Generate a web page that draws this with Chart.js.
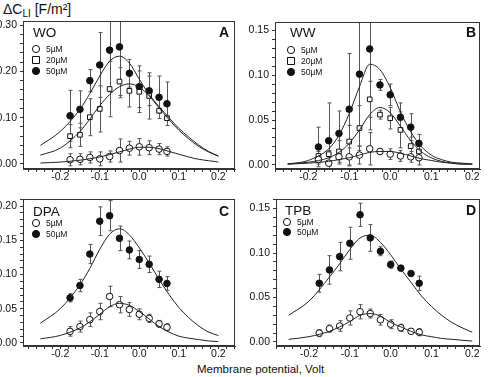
<!DOCTYPE html>
<html>
<head>
<meta charset="utf-8">
<script src="https://cdn.jsdelivr.net/npm/chart.js@4.4.1/dist/chart.umd.min.js"></script>
<style>
  body { margin: 0; background: #fff; width: 488px; height: 377px; overflow: hidden; position: relative;
         font-family: 'Liberation Sans', Arial, Helvetica, sans-serif; color: #111; }
  canvas { position: absolute; }
  #ylab { position: absolute; left: 3px; top: 1px; font-size: 14px; white-space: nowrap; }
  #ylab sub { font-size: 10px; vertical-align: -3px; }
  #xlab { position: absolute; left: 197px; top: 363px; font-size: 11.5px; white-space: nowrap; }
</style>
</head>
<body>
<div id="ylab">ΔC<sub>LI</sub> [F/m²]</div>
<div id="xlab">Membrane potential, Volt</div>
<canvas id="panelA" width="244" height="190" style="left:0;top:0"></canvas>
<canvas id="panelB" width="244" height="190" style="left:244px;top:0"></canvas>
<canvas id="panelC" width="244" height="187" style="left:0;top:190px"></canvas>
<canvas id="panelD" width="244" height="187" style="left:244px;top:190px"></canvas>
<script>
// membrane potential of the measured points (V)
const potential = [-0.175, -0.15, -0.125, -0.1, -0.075, -0.05, -0.025, 0, 0.025, 0.05, 0.07];
// potential grid of the fitted curves (V)
const fitPotential = [-0.25, -0.2, -0.15, -0.125, -0.1, -0.075, -0.05, -0.025, 0, 0.025, 0.05, 0.075, 0.1, 0.125, 0.15, 0.175, 0.2];

// labelled ticks
const xLabels = [-0.2, -0.1, 0, 0.1, 0.2];
const yLabelsA = [0, 0.1, 0.2, 0.3];
const yLabelsB = [0, 0.05, 0.1, 0.15];
const yLabelsC = [0, 0.05, 0.1, 0.15, 0.2];
const yLabelsD = [0, 0.05, 0.1, 0.15];

// A - WO
const wo5 = [0.009, 0.010, 0.014, 0.011, 0.016, 0.029, 0.034, 0.037, 0.035, 0.032, 0.027];
const wo5Err = [0.013, 0.012, 0.012, 0.015, 0.012, 0.025, 0.015, 0.018, 0.015, 0.012, 0.010];
const wo20 = [0.060, 0.063, 0.101, 0.119, 0.162, 0.178, 0.158, 0.156, 0.147, 0.115, 0.099];
const wo20Err = [0.025, 0.025, 0.040, 0.050, 0.060, 0.030, 0.035, 0.045, 0.050, 0.005, 0.004];
const wo50 = [0.104, 0.118, 0.180, 0.214, 0.246, 0.253, 0.196, 0.167, 0.158, 0.144, 0.130];
const wo50Err = [0.055, 0.040, 0.024, 0.070, 0.090, 0.110, 0.030, 0.045, 0.032, 0.046, 0.047];
const woFit5 = [0.002, 0.004, 0.008, 0.011, 0.015, 0.020, 0.026, 0.032, 0.036, 0.036, 0.033, 0.027, 0.021, 0.015, 0.010, 0.007, 0.004];
const woFit20 = [0.019, 0.034, 0.070, 0.097, 0.126, 0.150, 0.167, 0.173, 0.166, 0.147, 0.121, 0.096, 0.073, 0.054, 0.038, 0.026, 0.017];
const woFit50 = [0.040, 0.070, 0.118, 0.152, 0.190, 0.222, 0.233, 0.218, 0.183, 0.150, 0.124, 0.100, 0.077, 0.058, 0.041, 0.027, 0.017];

// B - WW
const ww5 = [0.006, 0.002, 0.009, 0.009, 0.011, 0.018, 0.015, 0.012, 0.010, 0.009, 0.008];
const ww5Err = [0.005, 0.003, 0.008, 0.010, 0.010, 0.018, 0.003, 0.006, 0.006, 0.006, 0.008];
const ww20 = [0.010, 0.012, 0.015, 0.026, 0.041, 0.073, 0.056, 0.052, 0.039, 0.021, 0.015];
const ww20Err = [0.005, 0.004, 0.012, 0.018, 0.025, 0.020, 0.005, 0.012, 0.020, 0.010, 0.006];
const ww50 = [0.020, 0.027, 0.035, 0.062, 0.101, 0.129, 0.089, 0.078, 0.053, 0.042, 0.024];
const ww50Err = [0.022, 0.042, 0.025, 0.062, 0.080, 0.090, 0.006, 0.012, 0.016, 0.015, 0.010];
const wwFit5 = [0.001, 0.002, 0.004, 0.006, 0.008, 0.011, 0.014, 0.015, 0.015, 0.013, 0.010, 0.007, 0.005, 0.003, 0.002, 0.001, 0.001];
const wwFit20 = [0.001, 0.003, 0.008, 0.014, 0.024, 0.039, 0.056, 0.064, 0.058, 0.043, 0.027, 0.015, 0.008, 0.004, 0.002, 0.001, 0.001];
const wwFit50 = [0.001, 0.005, 0.018, 0.033, 0.057, 0.087, 0.112, 0.106, 0.086, 0.059, 0.037, 0.021, 0.011, 0.006, 0.003, 0.002, 0.001];

// C - DPA
const dpa5 = [0.017, 0.024, 0.034, 0.046, 0.068, 0.056, 0.049, 0.042, 0.036, 0.028, 0.023];
const dpa5Err = [0.007, 0.008, 0.010, 0.012, 0.015, 0.012, 0.010, 0.008, 0.006, 0.005, 0.005];
const dpa50 = [0.066, 0.084, 0.130, 0.178, 0.186, 0.153, 0.136, 0.122, 0.115, 0.093, 0.087];
const dpa50Err = [0.006, 0.009, 0.014, 0.021, 0.022, 0.018, 0.013, 0.013, 0.012, 0.012, 0.010];
const dpaFit5 = [0.006, 0.011, 0.022, 0.031, 0.042, 0.053, 0.058, 0.055, 0.046, 0.035, 0.024, 0.016, 0.010, 0.007, 0.005, 0.003, 0.002];
const dpaFit50 = [0.029, 0.050, 0.085, 0.109, 0.137, 0.159, 0.167, 0.158, 0.139, 0.117, 0.093, 0.071, 0.052, 0.037, 0.025, 0.016, 0.011];

// D - TPB
const tpb5 = [0.010, 0.015, 0.018, 0.027, 0.034, 0.032, 0.025, 0.020, 0.016, 0.012, 0.011];
const tpb5Err = [0.004, 0.004, 0.006, 0.008, 0.008, 0.005, 0.006, 0.005, 0.004, 0.002, 0.004];
const tpb50 = [0.066, 0.081, 0.096, 0.111, 0.143, 0.117, 0.102, 0.087, 0.083, 0.077, 0.066];
const tpb50Err = [0.010, 0.016, 0.016, 0.018, 0.013, 0.015, 0.005, 0.004, 0.002, 0.002, 0.008];
const tpbFit5 = [0.003, 0.006, 0.012, 0.017, 0.023, 0.030, 0.032, 0.029, 0.022, 0.017, 0.012, 0.008, 0.006, 0.004, 0.003, 0.002, 0.001];
const tpbFit50 = [0.030, 0.046, 0.073, 0.088, 0.104, 0.117, 0.120, 0.112, 0.098, 0.082, 0.067, 0.052, 0.040, 0.030, 0.022, 0.016, 0.011];

const FONT = "'Liberation Sans', Arial, Helvetica, sans-serif";
const INK = '#222';

const pts = (xs, ys) => xs.map((x, i) => ({ x, y: ys[i] }));
const near = (a, b) => Math.abs(a - b) < 1e-6;
// minor tick positions between min and max
function minorTicks(min, max, step) {
  const out = [];
  for (let k = Math.ceil(min / step - 1e-9); k * step <= max + 1e-9; k++) out.push(+(k * step).toFixed(4));
  return out;
}

function fitLine(ys) {
  return { data: pts(fitPotential, ys), showLine: true, pointRadius: 0, borderColor: INK,
           borderWidth: 1, cubicInterpolationMode: 'monotone', fill: false };
}
function markers(ys, errs, style, filled) {
  return { data: pts(potential, ys), errors: errs, pointStyle: style, pointRadius: 3.3,
           borderWidth: 1, borderColor: '#111', backgroundColor: filled ? '#111' : '#fff' };
}

// error bars, frame, labels and inner legend
const panelDecor = {
  id: 'panelDecor',
  beforeDatasetsDraw(chart) {
    const { ctx, chartArea: a, scales: { x, y } } = chart;
    ctx.save();
    ctx.beginPath();
    ctx.rect(a.left, a.top, a.width, a.height);
    ctx.clip();
    ctx.strokeStyle = '#555';
    ctx.lineWidth = 1;
    chart.data.datasets.forEach(ds => {
      if (!ds.errors) return;
      ds.data.forEach((p, i) => {
        const e = ds.errors[i];
        const px = Math.round(x.getPixelForValue(p.x)) + 0.5;
        const y1 = y.getPixelForValue(p.y + e);
        const y2 = y.getPixelForValue(p.y - e);
        ctx.beginPath();
        ctx.moveTo(px, y1); ctx.lineTo(px, y2);
        ctx.moveTo(px - 2, y1); ctx.lineTo(px + 2, y1);
        ctx.moveTo(px - 2, y2); ctx.lineTo(px + 2, y2);
        ctx.stroke();
      });
    });
    ctx.restore();
  },
  afterDraw(chart, args, opts) {
    const { ctx, chartArea: a } = chart;
    ctx.save();
    ctx.strokeStyle = '#333';
    ctx.lineWidth = 1;
    ctx.strokeRect(Math.round(a.left) + 0.5, Math.round(a.top) + 0.5,
                   Math.round(a.width) - 1, Math.round(a.height) - 1);

    ctx.fillStyle = '#111';
    ctx.textBaseline = 'middle';
    ctx.font = '13.5px ' + FONT;
    ctx.textAlign = 'left';
    ctx.fillText(opts.name, opts.nameX, opts.nameY);
    ctx.font = 'bold 14px ' + FONT;
    ctx.textAlign = 'right';
    ctx.fillText(opts.letter, opts.letterX, opts.nameY);

    ctx.font = '8.5px ' + FONT;
    ctx.textAlign = 'left';
    opts.legend.forEach((item, i) => {
      const ly = opts.legendY + i * opts.legendGap;
      const lx = opts.legendX;
      ctx.beginPath();
      if (item.style === 'rect') ctx.rect(lx - 3.5, ly - 3.5, 7, 7);
      else ctx.arc(lx, ly, 3.6, 0, Math.PI * 2);
      ctx.fillStyle = item.filled ? '#111' : '#fff';
      ctx.fill();
      ctx.strokeStyle = '#111';
      ctx.stroke();
      ctx.fillStyle = '#111';
      ctx.fillText(item.label, lx + 10, ly + 0.5);
    });
    ctx.restore();
  }
};

function panel(id, datasets, cfg) {
  new Chart(document.getElementById(id), {
    type: 'scatter',
    data: { datasets },
    options: {
      responsive: false,
      animation: false,
      events: [],
      layout: { autoPadding: false, padding: cfg.padding },
      plugins: { legend: { display: false }, tooltip: { enabled: false }, panelDecor: cfg.decor },
      scales: {
        x: {
          type: 'linear', min: cfg.xMin, max: cfg.xMax,
          afterBuildTicks: s => { s.ticks = minorTicks(cfg.xMin, cfg.xMax, 0.02).map(value => ({ value })); },
          afterFit: s => { s.height = cfg.xHeight; },
          border: { color: '#333' },
          grid: { drawOnChartArea: false, tickLength: 3, color: '#333' },
          ticks: {
            autoSkip: false, maxRotation: 0, padding: -1,
            color: '#111', font: { family: FONT, size: 10.5 },
            callback: v => xLabels.some(t => near(t, v)) ? v.toFixed(1) : ''
          }
        },
        y: {
          min: cfg.yMin, max: cfg.yMax,
          afterBuildTicks: s => { s.ticks = minorTicks(cfg.yMin, cfg.yMax, cfg.yMinor).map(value => ({ value })); },
          afterFit: s => { s.width = cfg.yWidth; },
          border: { color: '#333' },
          grid: { drawOnChartArea: false, tickLength: 3, color: '#333' },
          ticks: {
            autoSkip: false, padding: 3,
            color: '#111', font: { family: FONT, size: 10.5 },
            callback: v => cfg.yLabels.some(t => near(t, v)) ? v.toFixed(2) : ''
          }
        }
      }
    },
    plugins: [panelDecor]
  });
}

panel('panelA', [
  fitLine(woFit5), fitLine(woFit20), fitLine(woFit50),
  markers(wo5, wo5Err, 'circle', false),
  markers(wo20, wo20Err, 'rect', false),
  markers(wo50, wo50Err, 'circle', true)
], {
  padding: { left: 0, top: 21, right: 9, bottom: 0 }, yWidth: 23, xHeight: 21,
  xMin: -0.294, xMax: 0.242, yMin: -0.011, yMax: 0.309, yLabels: yLabelsA, yMinor: 0.02,
  decor: { name: 'WO', nameX: 33, nameY: 33, letter: 'A', letterX: 229,
           legendX: 36, legendY: 49, legendGap: 11,
           legend: [{ label: '5µM', style: 'circle' }, { label: '20µM', style: 'rect' },
                    { label: '50µM', style: 'circle', filled: true }] }
});

panel('panelB', [
  fitLine(wwFit5), fitLine(wwFit20), fitLine(wwFit50),
  markers(ww5, ww5Err, 'circle', false),
  markers(ww20, ww20Err, 'rect', false),
  markers(ww50, ww50Err, 'circle', true)
], {
  padding: { left: 0, top: 22, right: 8, bottom: 0 }, yWidth: 31, xHeight: 21,
  xMin: -0.281, xMax: 0.219, yMin: -0.0045, yMax: 0.159, yLabels: yLabelsB, yMinor: 0.01,
  decor: { name: 'WW', nameX: 46, nameY: 33, letter: 'B', letterX: 232,
           legendX: 47, legendY: 50, legendGap: 11,
           legend: [{ label: '5µM', style: 'circle' }, { label: '20µM', style: 'rect' },
                    { label: '50µM', style: 'circle', filled: true }] }
});

panel('panelC', [
  fitLine(dpaFit5), fitLine(dpaFit50),
  markers(dpa5, dpa5Err, 'circle', false),
  markers(dpa50, dpa50Err, 'circle', true)
], {
  padding: { left: 0, top: 8, right: 9, bottom: 0 }, yWidth: 23, xHeight: 31,
  xMin: -0.294, xMax: 0.242, yMin: -0.0044, yMax: 0.210, yLabels: yLabelsC, yMinor: 0.01,
  decor: { name: 'DPA', nameX: 33, nameY: 22, letter: 'C', letterX: 229,
           legendX: 36, legendY: 33, legendGap: 11,
           legend: [{ label: '5µM', style: 'circle' }, { label: '50µM', style: 'circle', filled: true }] }
});

panel('panelD', [
  fitLine(tpbFit5), fitLine(tpbFit50),
  markers(tpb5, tpb5Err, 'circle', false),
  markers(tpb50, tpb50Err, 'circle', true)
], {
  padding: { left: 0, top: 8, right: 8, bottom: 0 }, yWidth: 32, xHeight: 31,
  xMin: -0.281, xMax: 0.219, yMin: -0.0045, yMax: 0.1604, yLabels: yLabelsD, yMinor: 0.01,
  decor: { name: 'TPB', nameX: 41, nameY: 21, letter: 'D', letterX: 232,
           legendX: 43, legendY: 32, legendGap: 10,
           legend: [{ label: '5µM', style: 'circle' }, { label: '50µM', style: 'circle', filled: true }] }
});
</script>
</body>
</html>
